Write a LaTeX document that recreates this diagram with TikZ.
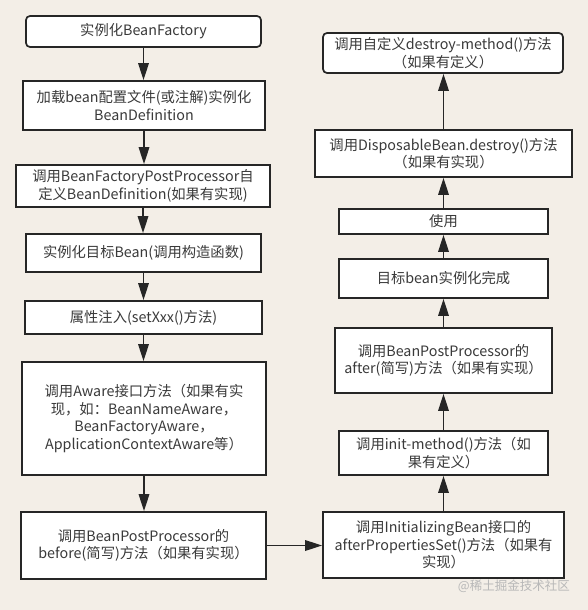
\documentclass[tikz,border=0pt]{standalone}
\usepackage{fontspec}
\setmainfont{Noto Sans CJK SC}
\usetikzlibrary{arrows.meta}
\definecolor{bgc}{HTML}{F3EEE7}
\definecolor{txt}{HTML}{3A3A3A}
\definecolor{edge}{HTML}{262626}
\definecolor{wm}{HTML}{B8B8B8}
\begin{document}
\begin{tikzpicture}[x=1pt,y=-1pt,
  box/.style={draw=edge,fill=white,line width=1.7pt,inner sep=0pt,align=center,
    text=txt,font=\fontsize{14.3}{17.6}\selectfont},
  rbox/.style={box,rounded corners=4pt},
  flow/.style={draw=edge,line width=1.7pt,-{Triangle[width=10.5pt,length=17pt]}}]
\fill[bgc] (0,0) rectangle (588,610);
\useasboundingbox (0,0) rectangle (588,610);
% left column
\node[rbox,minimum width=235pt,minimum height=31pt] (n1) at (143.5,31.5) {实例化BeanFactory};
\node[box,minimum width=242pt,minimum height=49pt] (n2) at (144,105.5) {加载bean配置文件(或注解)实例化\\BeanDefinition};
\node[box,minimum width=254pt,minimum height=42pt] (n3) at (143,186) {调用BeanFactoryPostProcessor自\\定义BeanDefinition(如果有实现)};
\node[box,minimum width=235pt,minimum height=38pt] (n4) at (143.5,253) {实例化目标Bean(调用构造函数)};
\node[box,minimum width=237pt,minimum height=33pt] (n5) at (143.5,317.5) {属性注入(setXxx()方法)};
\node[box,minimum width=244pt,minimum height=113pt] (n6) at (144,418.5) {调用Aware接口方法（如果有实\\现，如：BeanNameAware，\\BeanFactoryAware，\\ApplicationContextAware等）};
\node[box,minimum width=245pt,minimum height=67pt] (n7) at (143.5,545.5) {调用BeanPostProcessor的\\before(简写)方法（如果有实现）};
% right column
\node[rbox,minimum width=240pt,minimum height=40pt] (a) at (443,53) {调用自定义destroy-method()方法\\（如果有定义）};
\node[box,minimum width=257pt,minimum height=47pt] (b) at (443.5,153.5) {调用DisposableBean.destroy()方法\\（如果有实现）};
\node[box,minimum width=209pt,minimum height=25pt] (c) at (443.5,221.5) {使用};
\node[box,minimum width=209pt,minimum height=39pt] (d) at (443.5,278.5) {目标bean实例化完成};
\node[box,minimum width=217pt,minimum height=65pt] (e) at (443.5,360.5) {调用BeanPostProcessor的\\after(简写)方法（如果有实现）};
\node[box,minimum width=209pt,minimum height=44pt] (f) at (443.5,453) {调用init-method()方法（如\\果有定义）};
\node[box,minimum width=241pt,minimum height=66pt] (g) at (443.5,545) {调用InitializingBean接口的\\afterPropertiesSet()方法（如果有\\实现）};
% connectors left
\draw[flow] (n1.south) -- (n1.south |- n2.north);
\draw[flow] (n2.south) -- (n2.south |- n3.north);
\draw[flow] (n3.south) -- (n3.south |- n4.north);
\draw[flow] (n4.south) -- (n4.south |- n5.north);
\draw[flow] (n5.south) -- (n5.south |- n6.north);
\draw[flow] (n6.south) -- (n6.south |- n7.north);
\draw[flow] (n7.east) -- (n7.east -| g.west);
% connectors right
\draw[flow] (g.north) -- (g.north |- f.south);
\draw[flow] (f.north) -- (f.north |- e.south);
\draw[flow] (e.north) -- (e.north |- d.south);
\draw[flow] (d.north) -- (d.north |- c.south);
\draw[flow] (c.north) -- (c.north |- b.south);
\draw[flow] (b.north) -- (b.north |- a.south);
% watermark
\node[text=wm,font=\fontsize{12.5}{14}\selectfont,inner sep=0pt,anchor=east] (w) at (570,586) {@稀土掘金技术社区};
\end{tikzpicture}
\end{document}
